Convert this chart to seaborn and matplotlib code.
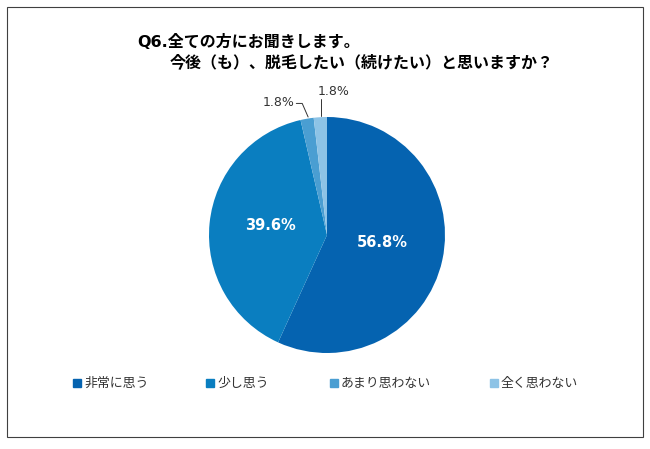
import matplotlib
matplotlib.use("Agg")
import matplotlib.pyplot as plt
import seaborn as sns
from matplotlib.patches import Rectangle

# answers and shares (%)
answers = ["非常に思う", "少し思う", "あまり思わない", "全く思わない"]
shares = [56.8, 39.6, 1.8, 1.8]
palette = ["#0563B0", "#0A7EC0", "#4A9ED2", "#8DC3E6"]

sns.set_style("white")
plt.rcParams["font.family"] = ["DejaVu Sans", "Noto Sans CJK JP"]

fig = plt.figure(figsize=(6.5, 4.49), dpi=100)

# outer frame
fig.patches.append(Rectangle((7 / 650, 1 - 437 / 449), 636 / 650, 430 / 449,
                             transform=fig.transFigure, fill=False,
                             edgecolor="#404040", linewidth=0.8))

# title
fig.text(137 / 650, 1 - 42 / 449, "Q6.全ての方にお聞きします。", color="black",
         fontsize=11.5, fontweight="bold", va="center", ha="left")
fig.text(170 / 650, 1 - 62 / 449, "今後（も）、脱毛したい（続けたい）と思いますか？",
         color="black", fontsize=11.5, fontweight="bold", va="center", ha="left")

# pie axes: centre (327,235), radius 118 px
r = 118
ax = fig.add_axes([(327 - r) / 650, 1 - (235 + r) / 449, 2 * r / 650, 2 * r / 449])
wedges, _ = ax.pie(shares, colors=palette, startangle=90, counterclock=False,
                   radius=1.0, wedgeprops=dict(linewidth=0))
ax.set_xlim(-1, 1)
ax.set_ylim(-1, 1)
ax.set_aspect("auto")
ax.axis("off")

# inside labels
ax.text(0.47, -0.06, f"{shares[0]}%", color="white", fontsize=10.5,
        fontweight="bold", ha="center", va="center")
ax.text(-0.48, 0.08, f"{shares[1]}%", color="white", fontsize=10.5,
        fontweight="bold", ha="center", va="center")

# outside labels with leader lines
ax.text(-0.41, 1.125, f"{shares[2]}%", fontsize=9, ha="center", va="center",
        color="#333333", clip_on=False)
ax.plot([-0.26, -0.21, -0.16], [1.115, 1.115, 1.0], color="#333333", lw=0.7,
        clip_on=False)
ax.text(0.06, 1.22, f"{shares[3]}%", fontsize=9, ha="center", va="center",
        color="#333333", clip_on=False)
ax.plot([-0.05, -0.05], [1.15, 1.005], color="#333333", lw=0.7, clip_on=False)

# legend
leg_x = [77, 210, 334, 494]
for x, lab, col in zip(leg_x, answers, palette):
    fig.patches.append(Rectangle(((x - 4) / 650, 1 - 387 / 449), 8 / 650, 8 / 449,
                                 transform=fig.transFigure, color=col))
    fig.text((x + 7) / 650, 1 - 383 / 449, lab, fontsize=9.3, va="center",
             ha="left", color="#333333")

fig.savefig("out.png", dpi=100)
